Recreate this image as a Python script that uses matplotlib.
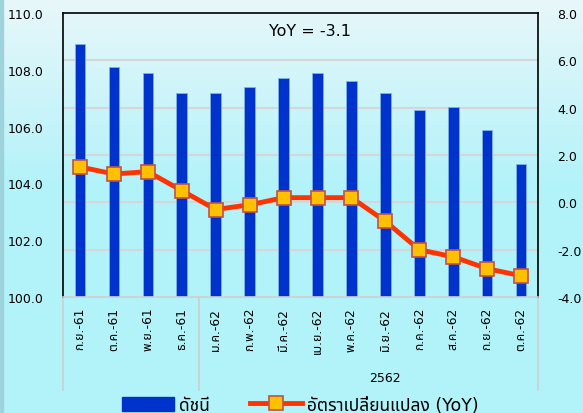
import numpy as np
import matplotlib
matplotlib.use('Agg')
import matplotlib.pyplot as plt
import matplotlib.transforms as mtransforms
from matplotlib.lines import Line2D
from matplotlib.patches import Patch, Rectangle

plt.rcParams['font.family'] = ['DejaVu Sans', 'Noto Sans Thai', 'Noto Sans Thai UI',
                               'Sarabun', 'Anuphan', 'Bai Jamjuree']

# ข้อมูล
months = ['ก.ย.-61', 'ต.ค.-61', 'พ.ย.-61', 'ธ.ค.-61', 'ม.ค.-62', 'ก.พ.-62', 'มี.ค.-62',
          'เม.ย.-62', 'พ.ค.-62', 'มิ.ย.-62', 'ก.ค.-62', 'ส.ค.-62', 'ก.ย.-62', 'ต.ค.-62']
index_vals = [108.9, 108.1, 107.9, 107.2, 107.2, 107.4, 107.7,
              107.9, 107.6, 107.2, 106.6, 106.7, 105.9, 104.7]
yoy_vals = [1.5, 1.2, 1.3, 0.5, -0.3, -0.1, 0.2,
            0.2, 0.2, -0.8, -2.0, -2.3, -2.8, -3.1]
year_label = '2562'
left_ticks = [100, 102, 104, 106, 108, 110]
right_ticks = [-4, -2, 0, 2, 4, 6, 8]

fig = plt.figure(figsize=(5.83, 4.14), dpi=100)

# พื้นหลังไล่สี
bg = fig.add_axes([0, 0, 1, 1], zorder=-10)
grad = np.linspace(0, 1, 256).reshape(-1, 1)
top_c = np.array([0.91, 0.97, 0.98])
bot_c = np.array([0.70, 0.95, 0.98])
img = top_c + (bot_c - top_c) * np.clip(grad * 2.2, 0, 1)[:, :, None]
bg.imshow(img.reshape(256, 1, 3), aspect='auto', extent=[0, 1, 0, 1])
bg.add_patch(Rectangle((0, 0), 0.006, 1, color='#9fd3dc'))
bg.axis('off')

ax = fig.add_axes([0.108, 0.28, 0.815, 0.686])
ax.patch.set_visible(False)
x = np.arange(len(months))

# เส้น grid ตามแกนขวา
for v in right_ticks[1:-1]:
    ax.axhline(100 + (v + 4) * 10 / 12, color='#d6d6d6', linewidth=1.5, zorder=0)

ax.bar(x, index_vals, width=0.31, color='#0033cc', edgecolor='#7fb2e8',
       linewidth=0.6, zorder=2)
ax.set_ylim(100, 110)
ax.set_xlim(-0.5, len(months) - 0.5)
ax.set_yticks(left_ticks)
ax.set_yticklabels([f'{v:.1f}' for v in left_ticks], fontsize=9)
ax.set_xticks(x)
ax.set_xticklabels(months, rotation=90, fontsize=8.8, va='top')
ax.tick_params(axis='y', length=0, pad=14)
ax.tick_params(axis='x', length=0, pad=7)

ax2 = ax.twinx()
ax2.set_ylim(-4, 8)
ax2.set_yticks(right_ticks)
ax2.set_yticklabels([f'{v:.1f}' for v in right_ticks], fontsize=9)
ax2.tick_params(axis='y', length=0, pad=14)
ax2.patch.set_visible(False)
ax2.plot(x, yoy_vals, color='#ff3300', linewidth=3.5, marker='s', markersize=10,
         markerfacecolor='#ffc000', markeredgecolor='#c0504d', markeredgewidth=1.2,
         zorder=3)

for sp in ['top', 'left', 'right']:
    ax.spines[sp].set_color('black')
    ax.spines[sp].set_linewidth(1.2)
ax.spines['bottom'].set_color('#cfcfcf')
ax.spines['bottom'].set_linewidth(1.2)
for sp in ax2.spines.values():
    sp.set_visible(False)

# เส้นแบ่งกลุ่มใต้แกน x
trans = mtransforms.blended_transform_factory(ax.transData, ax.transAxes)
for xv in [-0.5, 3.5, len(months) - 0.5]:
    ax.plot([xv, xv], [0, -0.327], transform=trans, color='#cfcfcf',
            linewidth=1.2, clip_on=False)
ax.text(9, -0.282, year_label, transform=trans, ha='center', va='center', fontsize=9)

ax.text(0.52, 0.94, 'YoY = -3.1', transform=ax.transAxes, ha='center', va='center',
        fontsize=11.5)

handles = [Patch(facecolor='#0033cc', edgecolor='#0033cc'),
           Line2D([0], [0], color='#ff3300', linewidth=3.5, marker='s', markersize=10,
                  markerfacecolor='#ffc000', markeredgecolor='#c0504d', markeredgewidth=1.2)]
fig.legend(handles, ['ดัชนี', 'อัตราเปลี่ยนแปลง (YoY)'], loc='center',
           bbox_to_anchor=(0.515, 0.02), ncol=2, frameon=False, fontsize=12.5,
           handlelength=3.0, handleheight=0.9, columnspacing=2.3, handletextpad=0.3)

fig.savefig('out.png', dpi=100)
